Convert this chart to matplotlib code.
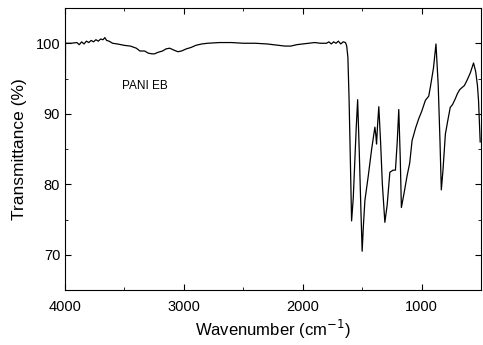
import matplotlib
matplotlib.use("Agg")
import matplotlib.pyplot as plt
from matplotlib.ticker import MultipleLocator

plt.rcParams['font.family'] = ['Liberation Sans', 'DejaVu Sans']

# FTIR spectrum of PANI emeraldine base
wavenumber = [4000, 3996, 3990, 3950, 3900, 3880, 3860, 3840, 3820, 3800, 3780,
              3760, 3740, 3720, 3700, 3680, 3665, 3650, 3630, 3600, 3560, 3500,
              3450, 3400, 3370, 3330, 3300, 3270, 3246, 3220, 3180, 3150, 3120,
              3080, 3050, 3020, 2980, 2940, 2900, 2850, 2800, 2700, 2600, 2500,
              2400, 2300, 2200, 2150, 2100, 2050, 2000, 1950, 1900, 1850, 1800,
              1780, 1760, 1740, 1720, 1700, 1680, 1660, 1640, 1630, 1620, 1610,
              1600, 1589, 1575, 1560, 1550, 1538, 1525, 1510, 1500, 1490, 1477,
              1450, 1420, 1393, 1385, 1379, 1370, 1360, 1345, 1330, 1309, 1290,
              1267, 1240, 1220, 1205, 1192, 1180, 1170, 1150, 1122, 1100, 1080,
              1050, 1024, 1000, 968, 940, 926, 900, 879, 860, 845, 834, 820, 800,
              780, 759, 740, 717, 700, 680, 661, 640, 619, 590, 563, 545, 530,
              521, 507]
transmittance = [64.5, 99.9, 100.0, 100.0, 100.1, 99.8, 100.2, 99.9, 100.3, 100.1, 100.4,
                 100.2, 100.5, 100.3, 100.6, 100.5, 100.8, 100.4, 100.3, 100.0, 99.9, 99.7,
                 99.6, 99.3, 98.9, 98.9, 98.6, 98.5, 98.5, 98.7, 98.9, 99.2, 99.3,
                 99.0, 98.8, 98.9, 99.2, 99.4, 99.7, 99.9, 100.0, 100.1, 100.1, 100.0,
                 100.0, 99.9, 99.7, 99.6, 99.6, 99.8, 99.9, 100.0, 100.1, 100.0, 100.0,
                 100.2, 99.9, 100.2, 100.0, 100.3, 99.9, 100.2, 100.1, 99.6, 98.0, 92.0,
                 84.0, 74.8, 78.0, 84.0, 88.0, 92.0, 85.0, 76.0, 70.5, 74.0, 77.7,
                 81.0, 85.0, 88.1, 87.0, 85.7, 88.5, 91.0, 86.0, 80.0, 74.6, 77.0,
                 81.7, 82.0, 82.0, 86.0, 90.6, 84.0, 76.7, 78.5, 81.2, 83.0, 86.2,
                 88.0, 89.3, 90.3, 91.9, 92.5, 93.8, 96.5, 99.9, 94.0, 86.0, 79.2, 82.0, 87.1,
                 89.0, 90.9, 91.3, 92.1, 92.8, 93.4, 93.7, 94.0, 94.7, 95.8, 97.2, 96.0, 94.0,
                 91.9, 86.0]

fig = plt.figure(figsize=(4.83, 3.45), dpi=100)
ax = fig.add_axes([0.1346, 0.1594, 0.8613, 0.8174])

ax.plot(wavenumber, transmittance, color='black', linewidth=0.9)

ax.set_xlim(4000, 500)
ax.set_ylim(65, 105)
ax.xaxis.set_major_locator(MultipleLocator(1000))
ax.xaxis.set_minor_locator(MultipleLocator(500))
ax.yaxis.set_major_locator(MultipleLocator(10))
ax.yaxis.set_minor_locator(MultipleLocator(5))
ax.tick_params(which='both', direction='in', top=True, right=True, labelsize=10.5)
ax.tick_params(which='major', length=4)
ax.tick_params(which='minor', length=2)
ax.tick_params(axis='x', pad=7)

ax.set_xlabel('Wavenumber (cm$^{-1}$)', fontsize=12, labelpad=3)
ax.set_ylabel('Transmittance (%)', fontsize=12.5, labelpad=6)
ax.text(3330, 94, 'PANI EB', fontsize=8.5, ha='center', va='center')

fig.savefig('out.png', dpi=100)
